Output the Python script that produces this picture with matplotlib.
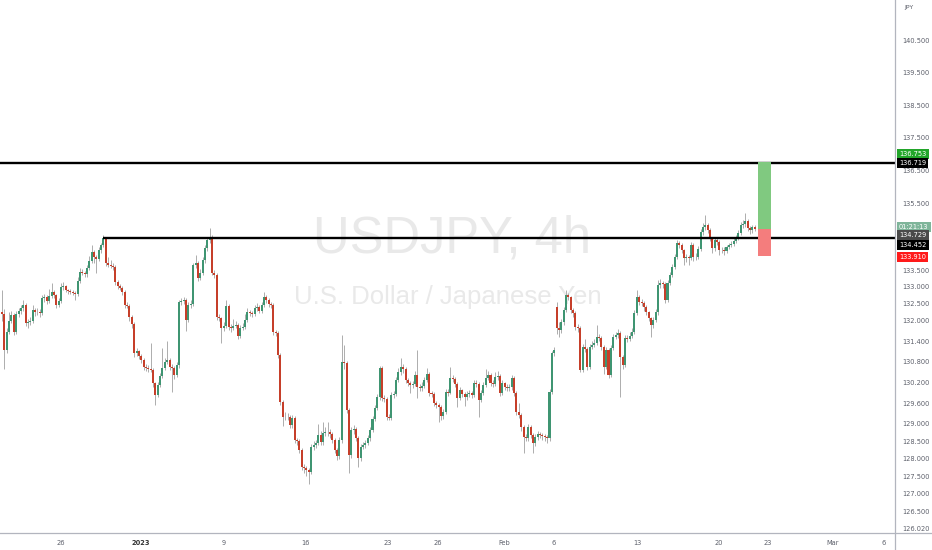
import numpy as np
import matplotlib
matplotlib.use('Agg')
import matplotlib.pyplot as plt
from matplotlib.lines import Line2D
from matplotlib.patches import Rectangle
from matplotlib.ticker import NullLocator, NullFormatter

# USDJPY 4h candles
opens = [
    132.25, 132.20, 131.15, 131.67, 132.00, 132.16, 131.67, 132.19, 132.28, 132.37,
    132.46, 131.93, 131.95, 131.98, 132.31, 132.25, 132.27, 132.22, 132.66, 132.69,
    132.57, 132.72, 132.84, 132.75, 132.46, 132.57, 132.99, 133.02, 132.90, 132.88,
    132.86, 132.83, 132.78, 133.17, 133.44, 133.42, 133.38, 133.56, 133.76, 134.03,
    133.88, 133.83, 134.09, 134.24, 134.45, 133.70, 133.65, 133.63, 133.60, 133.14,
    133.02, 132.97, 132.84, 132.46, 132.44, 132.10, 131.90, 131.05, 131.10, 130.96,
    130.84, 130.64, 130.61, 130.59, 130.57, 130.17, 129.83, 130.12, 130.38, 130.61,
    130.79, 130.84, 130.64, 130.61, 130.41, 130.70, 132.54, 132.57, 132.60, 132.01,
    132.46, 132.50, 133.64, 133.70, 133.26, 133.41, 133.79, 134.15, 134.39, 134.45,
    133.41, 133.36, 132.10, 132.07, 131.78, 131.85, 132.43, 131.81, 131.78, 131.85,
    131.87, 131.55, 131.78, 131.82, 132.01, 132.25, 132.22, 132.20, 132.37, 132.40,
    132.30, 132.46, 132.69, 132.60, 132.49, 132.46, 131.67, 131.64, 130.99, 129.62,
    129.19, 129.21, 129.19, 128.96, 129.16, 128.53, 128.50, 128.25, 127.77, 127.74,
    127.68, 127.62, 128.33, 128.38, 128.44, 128.67, 128.47, 128.73, 128.78, 128.76,
    128.70, 128.53, 128.25, 128.07, 128.53, 130.79, 130.76, 129.39, 128.10, 128.82,
    128.84, 128.59, 128.02, 128.33, 128.38, 128.44, 128.59, 128.82, 129.13, 129.45,
    129.77, 130.61, 129.74, 129.71, 129.19, 129.16, 129.83, 129.85, 130.26, 130.49,
    130.64, 130.58, 130.26, 130.17, 130.12, 130.14, 130.41, 130.06, 130.03, 130.10,
    130.26, 130.44, 129.89, 129.86, 129.59, 129.54, 129.48, 129.22, 129.34, 129.92,
    129.90, 130.32, 130.30, 130.15, 129.74, 129.97, 129.86, 129.77, 129.86, 129.89,
    129.83, 130.17, 130.15, 129.68, 129.89, 130.12, 130.32, 130.41, 130.17, 130.15,
    130.35, 130.38, 129.89, 130.17, 130.06, 130.03, 130.05, 130.32, 129.89, 129.34,
    129.25, 128.90, 128.62, 128.60, 128.90, 128.67, 128.44, 128.62, 128.70, 128.67,
    128.64, 128.62, 128.59, 129.92, 131.05, 132.40, 131.78, 131.72, 131.95, 132.31,
    132.75, 132.69, 132.31, 132.22, 131.81, 131.78, 130.55, 131.23, 131.18, 130.64,
    131.23, 131.28, 131.34, 131.52, 131.50, 131.23, 130.64, 131.14, 130.41, 131.20,
    131.52, 131.57, 131.64, 130.93, 130.70, 131.49, 131.47, 131.55, 131.67, 132.22,
    132.69, 132.54, 132.52, 132.40, 132.25, 132.07, 131.87, 132.01, 132.25, 133.05,
    133.11, 133.08, 132.60, 133.11, 133.35, 133.59, 133.88, 134.30, 134.24, 134.09,
    133.85, 133.88, 133.86, 134.24, 133.88, 133.90, 134.12, 134.63, 134.78, 134.84,
    134.69, 134.45, 134.15, 134.39, 134.35, 134.09, 134.11, 134.06, 134.18, 134.24,
    134.29, 134.36, 134.45, 134.60, 134.84, 134.87, 134.96, 134.75, 134.69, 134.78,
]
closes = [
    132.20, 131.15, 131.67, 132.00, 132.16, 131.67, 132.19, 132.28, 132.37, 132.46,
    131.93, 131.95, 131.98, 132.31, 132.25, 132.27, 132.22, 132.66, 132.69, 132.57,
    132.72, 132.84, 132.75, 132.46, 132.57, 132.99, 133.02, 132.90, 132.88, 132.86,
    132.83, 132.78, 133.17, 133.44, 133.42, 133.38, 133.56, 133.76, 134.03, 133.88,
    133.83, 134.09, 134.24, 134.45, 133.70, 133.65, 133.63, 133.60, 133.14, 133.02,
    132.97, 132.84, 132.46, 132.44, 132.10, 131.90, 131.05, 131.10, 130.96, 130.84,
    130.64, 130.61, 130.59, 130.57, 130.17, 129.83, 130.12, 130.38, 130.61, 130.79,
    130.84, 130.64, 130.61, 130.41, 130.70, 132.54, 132.57, 132.60, 132.01, 132.46,
    132.50, 133.64, 133.70, 133.26, 133.41, 133.79, 134.15, 134.39, 134.45, 133.41,
    133.36, 132.10, 132.07, 131.78, 131.85, 132.43, 131.81, 131.78, 131.85, 131.87,
    131.55, 131.78, 131.82, 132.01, 132.25, 132.22, 132.20, 132.37, 132.40, 132.30,
    132.46, 132.69, 132.60, 132.49, 132.46, 131.67, 131.64, 130.99, 129.62, 129.19,
    129.21, 129.19, 128.96, 129.16, 128.53, 128.50, 128.25, 127.77, 127.74, 127.68,
    127.62, 128.33, 128.38, 128.44, 128.67, 128.47, 128.73, 128.78, 128.76, 128.70,
    128.53, 128.25, 128.07, 128.53, 130.79, 130.76, 129.39, 128.10, 128.82, 128.84,
    128.59, 128.02, 128.33, 128.38, 128.44, 128.59, 128.82, 129.13, 129.45, 129.77,
    130.61, 129.74, 129.71, 129.19, 129.16, 129.83, 129.85, 130.26, 130.49, 130.64,
    130.58, 130.26, 130.17, 130.12, 130.14, 130.41, 130.06, 130.03, 130.10, 130.26,
    130.44, 129.89, 129.86, 129.59, 129.54, 129.48, 129.22, 129.34, 129.92, 129.90,
    130.32, 130.30, 130.15, 129.74, 129.97, 129.86, 129.77, 129.86, 129.89, 129.83,
    130.17, 130.15, 129.68, 129.89, 130.12, 130.32, 130.41, 130.17, 130.15, 130.35,
    130.38, 129.89, 130.17, 130.06, 130.03, 130.05, 130.32, 129.89, 129.34, 129.25,
    128.90, 128.62, 128.60, 128.90, 128.67, 128.44, 128.62, 128.70, 128.67, 128.64,
    128.62, 128.59, 129.92, 131.05, 131.14, 131.78, 131.72, 131.95, 132.31, 132.75,
    132.69, 132.31, 132.22, 131.81, 131.78, 130.55, 131.23, 131.18, 130.64, 131.23,
    131.28, 131.34, 131.52, 131.50, 131.23, 130.64, 131.14, 130.41, 131.20, 131.52,
    131.57, 131.64, 130.93, 130.70, 131.49, 131.47, 131.55, 131.67, 132.22, 132.69,
    132.54, 132.52, 132.40, 132.25, 132.07, 131.87, 132.01, 132.25, 133.05, 133.11,
    133.08, 132.60, 133.11, 133.35, 133.59, 133.88, 134.30, 134.24, 134.09, 133.85,
    133.88, 133.86, 134.24, 133.88, 133.90, 134.12, 134.63, 134.78, 134.84, 134.69,
    134.45, 134.15, 134.39, 134.35, 134.09, 134.11, 134.06, 134.18, 134.24, 134.29,
    134.36, 134.45, 134.60, 134.84, 134.87, 134.96, 134.75, 134.69, 134.78, 134.73,
]
highs = [
    132.90, 132.35, 131.80, 132.25, 132.30, 132.22, 132.30, 132.36, 132.45, 132.60,
    132.52, 132.05, 132.10, 132.45, 132.38, 132.36, 132.35, 132.75, 132.80, 132.76,
    132.95, 133.12, 132.92, 132.80, 132.66, 133.10, 133.15, 133.06, 132.95, 132.94,
    132.92, 132.88, 133.30, 133.55, 133.52, 133.48, 133.66, 133.92, 134.25, 134.10,
    133.95, 134.18, 134.32, 134.54, 134.50, 133.88, 133.80, 133.70, 133.66, 133.20,
    133.08, 133.02, 132.90, 132.55, 132.50, 132.18, 131.96, 131.20, 131.15, 131.02,
    130.90, 130.72, 130.70, 131.35, 130.62, 130.22, 130.20, 130.46, 131.20, 130.90,
    131.40, 130.92, 130.72, 130.66, 130.80, 132.60, 132.68, 132.70, 132.66, 132.55,
    132.62, 133.72, 133.95, 133.76, 133.52, 133.88, 134.25, 134.50, 134.75, 134.55,
    133.50, 133.42, 132.20, 132.12, 131.95, 132.60, 132.48, 131.90, 132.05, 131.98,
    131.92, 131.86, 131.92, 132.20, 132.36, 132.32, 132.30, 132.46, 132.52, 132.46,
    132.56, 132.84, 132.75, 132.66, 132.56, 132.52, 131.74, 131.70, 131.05, 129.70,
    129.35, 129.30, 129.25, 129.25, 129.22, 128.60, 128.56, 128.30, 127.85, 127.80,
    127.75, 128.42, 128.50, 128.55, 129.00, 128.80, 129.05, 128.90, 129.05, 128.84,
    128.76, 128.60, 128.32, 128.62, 131.58, 131.28, 130.82, 129.45, 128.92, 128.96,
    128.90, 128.65, 128.42, 128.48, 128.54, 128.68, 128.92, 129.22, 129.55, 129.85,
    130.68, 130.66, 129.82, 129.76, 129.28, 129.92, 129.96, 130.36, 130.62, 130.90,
    130.72, 130.64, 130.32, 130.24, 130.24, 130.52, 131.14, 130.14, 130.20, 130.36,
    130.61, 130.50, 129.96, 129.92, 129.66, 129.60, 129.54, 129.44, 130.00, 130.02,
    130.64, 130.42, 130.36, 130.20, 130.06, 130.02, 129.92, 129.96, 129.98, 129.95,
    130.26, 130.26, 130.20, 129.98, 130.20, 130.58, 130.52, 130.46, 130.26, 130.50,
    130.52, 130.44, 130.26, 130.22, 130.14, 130.16, 130.42, 130.38, 129.95, 129.60,
    129.30, 128.96, 128.72, 129.00, 128.96, 128.74, 128.72, 128.80, 128.78, 128.74,
    128.72, 128.68, 130.00, 131.12, 131.22, 132.55, 131.95, 132.05, 132.40, 132.90,
    132.82, 132.74, 132.36, 132.28, 131.90, 131.85, 131.32, 131.45, 131.24, 131.32,
    131.40, 131.45, 131.87, 131.62, 131.56, 131.28, 131.24, 131.20, 131.30, 131.62,
    131.68, 131.75, 131.70, 131.00, 131.58, 131.58, 131.66, 131.78, 132.32, 132.90,
    132.76, 132.64, 132.58, 132.46, 132.30, 132.12, 132.10, 132.35, 133.20, 133.22,
    133.18, 133.14, 133.20, 133.45, 133.68, 133.98, 134.40, 134.38, 134.30, 134.14,
    133.98, 133.96, 134.34, 134.30, 134.00, 134.22, 134.72, 134.90, 135.14, 134.92,
    134.75, 134.50, 134.48, 134.46, 134.40, 134.20, 134.18, 134.26, 134.32, 134.38,
    134.45, 134.55, 134.70, 134.95, 135.00, 135.20, 135.02, 134.82, 134.86, 134.84,
]
lows = [
    132.00, 130.60, 131.05, 131.60, 131.92, 131.58, 131.60, 132.10, 132.20, 132.30,
    131.85, 131.80, 131.88, 131.92, 132.15, 132.18, 132.12, 132.16, 132.55, 132.48,
    132.52, 132.68, 132.66, 132.38, 132.40, 132.52, 132.92, 132.84, 132.80, 132.80,
    132.76, 132.60, 132.72, 133.10, 133.35, 133.28, 133.30, 133.50, 133.70, 133.70,
    133.40, 133.78, 134.02, 134.18, 133.62, 133.58, 133.55, 133.50, 133.06, 132.95,
    132.90, 132.76, 132.38, 132.36, 132.00, 131.80, 130.95, 130.98, 130.88, 130.76,
    130.56, 130.52, 130.50, 130.50, 130.05, 129.55, 129.76, 130.05, 130.32, 130.55,
    130.72, 130.56, 129.92, 130.30, 130.35, 130.62, 132.45, 132.48, 131.70, 131.95,
    132.38, 132.44, 133.55, 133.18, 133.20, 133.35, 133.72, 134.08, 134.30, 133.35,
    133.25, 132.02, 131.98, 131.34, 131.70, 131.80, 131.72, 131.68, 131.72, 131.78,
    131.45, 131.50, 131.72, 131.76, 131.96, 132.14, 132.12, 132.14, 132.30, 132.22,
    132.24, 132.40, 132.52, 132.40, 132.38, 131.58, 131.55, 130.90, 129.55, 128.95,
    129.10, 129.10, 128.88, 128.88, 128.45, 128.40, 128.16, 127.68, 127.60, 127.50,
    127.28, 127.56, 128.26, 128.30, 128.38, 128.40, 128.40, 128.66, 128.66, 128.60,
    128.44, 128.16, 127.96, 128.00, 128.45, 130.60, 129.30, 127.60, 128.02, 128.72,
    128.50, 127.77, 127.95, 128.28, 128.32, 128.38, 128.52, 128.76, 129.08, 129.40,
    129.70, 129.66, 129.62, 129.10, 129.10, 129.10, 129.74, 129.80, 130.20, 130.42,
    130.48, 130.18, 130.08, 129.90, 130.04, 130.08, 129.74, 129.94, 129.96, 130.04,
    130.20, 129.80, 129.76, 129.50, 129.45, 129.05, 129.12, 129.15, 129.28, 129.80,
    129.85, 130.22, 130.06, 129.48, 129.68, 129.76, 129.50, 129.70, 129.78, 129.74,
    129.78, 130.06, 129.19, 129.62, 129.84, 130.06, 130.26, 130.08, 130.06, 130.10,
    130.28, 129.80, 129.82, 129.98, 129.94, 129.96, 129.98, 129.80, 129.26, 129.16,
    128.80, 128.16, 128.50, 128.52, 128.58, 128.16, 128.36, 128.55, 128.58, 128.55,
    128.52, 128.45, 128.52, 129.85, 130.98, 131.60, 131.52, 131.65, 131.88, 132.25,
    132.60, 132.22, 132.12, 131.72, 131.68, 130.49, 130.50, 131.08, 130.55, 130.58,
    131.16, 131.22, 131.28, 131.40, 131.14, 130.45, 130.58, 130.32, 130.35, 131.15,
    131.45, 131.50, 129.77, 130.60, 130.64, 131.38, 131.40, 131.48, 131.60, 132.16,
    132.46, 132.42, 132.30, 132.16, 131.98, 131.52, 131.80, 131.95, 132.18, 132.98,
    132.98, 132.52, 132.54, 133.05, 133.28, 133.52, 133.82, 134.15, 134.00, 133.64,
    133.75, 133.66, 133.80, 133.78, 133.80, 133.84, 134.06, 134.56, 134.70, 134.60,
    134.36, 134.00, 134.08, 134.25, 133.94, 134.00, 133.94, 134.00, 134.12, 134.18,
    134.22, 134.30, 134.40, 134.55, 134.76, 134.80, 134.66, 134.58, 134.62, 134.66,
]

# levels drawn on the chart
resistance = 136.719
support = 134.452
support_start = 43          # candle where the support line starts
entry = 134.729
target = 136.753
stop = 133.910

# axis ticks
y_ticks = [140.5, 139.5, 138.5, 137.5, 136.5, 135.5, 133.5, 133.0, 132.5, 132.0,
           131.4, 130.8, 130.2, 129.6, 129.0, 128.5, 128.0, 127.5, 127.0, 126.5, 126.02]
x_tick_pos = [25.0, 58.9, 94.1, 128.8, 163.6, 184.7, 212.7, 233.9, 269.1, 303.8,
              324.6, 352.1, 373.7]
x_tick_labels = ['26', '2023', '9', '16', '23', '26', 'Feb', '6', '13', '20', '23', 'Mar', '6']

up_col = '#3f9572'
down_col = '#c63f2a'
wick_col = '#adadad'
grey_txt = '#5d606b'

W, H = 932, 550
fig = plt.figure(figsize=(W / 100, H / 100), dpi=100)
fig.patch.set_facecolor('white')
ax = fig.add_axes([0, 17 / H, 895 / W, 533 / H])

o = np.array(opens)
c = np.array(closes)
hi = np.array(highs)
lo = np.array(lows)
idx = np.arange(len(c))

ax.set_yscale('log')
ax.set_ylim(125.90, 141.78)
ax.set_xlim(-0.85, 378.4)

# watermark
ax.text(0.505, 0.552, 'USDJPY, 4h', transform=ax.transAxes, ha='center', va='center',
        fontsize=36.5, color='#e9e9e9', family='Liberation Sans', zorder=0)
ax.text(0.5, 0.443, 'U.S. Dollar / Japanese Yen', transform=ax.transAxes, ha='center',
        va='center', fontsize=18.5, color='#e9e9e9', family='Liberation Sans', zorder=0)

# candles
ax.vlines(idx, lo, hi, color=wick_col, lw=0.7, zorder=2)
cols = np.where(c >= o, up_col, down_col)
body = np.maximum(np.abs(c - o), 0.015)
ax.bar(idx, body, bottom=np.minimum(o, c), width=0.86, color=cols, lw=0, zorder=3)

# horizontal levels
ax.axhline(resistance, color='black', lw=1.7, zorder=4)
ax.hlines(support, support_start, 378.4, color='black', lw=1.7, zorder=4)

# long position box
bx = len(c) + 0.3
ax.add_patch(Rectangle((bx, entry), 5.5, target - entry, fc='#80c980', ec='none', zorder=5))
ax.add_patch(Rectangle((bx, stop), 5.5, entry - stop, fc='#f47d7d', ec='none', zorder=5))

# axes styling
for s in ax.spines.values():
    s.set_visible(False)
ax.yaxis.tick_right()
ax.set_yticks(y_ticks)
ax.set_yticklabels([f'{v:.3f}' for v in y_ticks])
ax.yaxis.set_minor_locator(NullLocator())
ax.yaxis.set_minor_formatter(NullFormatter())
ax.tick_params(axis='y', length=0, pad=5, labelsize=4.8, labelcolor=grey_txt)
ax.set_xticks(x_tick_pos)
ax.set_xticklabels(x_tick_labels)
ax.tick_params(axis='x', length=0, pad=5, labelsize=4.8, labelcolor=grey_txt)
for t in ax.get_xticklabels():
    if t.get_text() == '2023':
        t.set_fontweight('bold')
        t.set_color('#333333')

# frame lines
fig.add_artist(Line2D([0, 1], [17 / H, 17 / H], transform=fig.transFigure, color='#b2b5be', lw=0.9))
fig.add_artist(Line2D([895 / W, 895 / W], [0, 1], transform=fig.transFigure, color='#b2b5be', lw=0.9))

fig.text(904 / W, 1 - 8 / H, 'JPY', fontsize=4.5, color=grey_txt, va='center')

# price labels on the right scale
labels = [
    (154, f'{target:.3f}', '#22a52a'),
    (163, f'{resistance:.3f}', '#000000'),
    (227, '01:21:13', '#7fb59a'),
    (235, f'{entry:.3f}', '#4a4a4a'),
    (245, f'{support:.3f}', '#000000'),
    (257, f'{stop:.3f}', '#ff1a1a'),
]
for ypx, txt, bg in labels:
    fig.text(899 / W, 1 - ypx / H, txt, fontsize=4.8, color='white', va='center', ha='left',
             bbox=dict(boxstyle='square,pad=0.35', fc=bg, ec='none'))

fig.savefig('out.png', dpi=100)
